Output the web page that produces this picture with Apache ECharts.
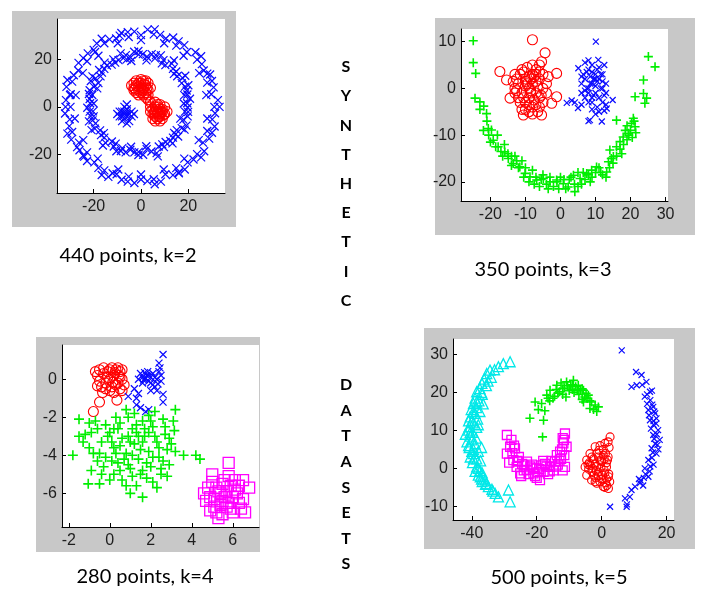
<!DOCTYPE html>
<html><head><meta charset="utf-8">
<script src="https://cdn.jsdelivr.net/npm/echarts@6/dist/echarts.min.js"></script>
<style>html,body{margin:0;padding:0;background:#fff}#c{width:701px;height:590px}</style>
</head><body><div id="c"></div>
<script>
// ---------- Panel 1: 440 points, k=2 ----------
const p1Ticks = [-20, 0, 20];
const p1BlueOuter = [[31.0,0],[32.5,2.8],[29.7,5.3],[30.7,8.2],[28.0,10.2],[29.2,13.6],[26.5,15.3],[25.7,18.0],[23.7,19.9],[23.0,23.0],[19.4,23.1],[18.3,26.0],[14.9,25.8],[13.6,29.2],[10.5,28.8],[8.1,30.3],[5.4,30.5],[2.8,32.5],[0,30.2],[-2.8,31.7],[-5.2,29.4],[-8.3,31.1],[-10.5,28.8],[-13.3,28.4],[-15.5,26.8],[-18.7,26.7],[-19.4,23.1],[-22.5,22.5],[-22.8,19.2],[-26.4,18.5],[-26.5,15.3],[-28.4,13.3],[-29.1,10.6],[-31.5,8.4],[-29.7,5.3],[-31.7,2.8],[-29.8,0],[-32.1,-2.8],[-30.1,-5.3],[-30.3,-8.1],[-29.1,-10.6],[-29.5,-13.8],[-26.2,-15.1],[-26.0,-18.3],[-22.8,-19.2],[-22.8,-22.8],[-19.7,-23.4],[-18.0,-25.7],[-15.5,-26.8],[-13.8,-29.5],[-10.3,-28.4],[-8.2,-30.7],[-5.2,-29.4],[-2.8,-32.1],[0,-30.6],[2.7,-31.3],[5.4,-30.5],[8.4,-31.5],[10.3,-28.4],[13.5,-28.8],[14.9,-25.8],[18.5,-26.4],[19.7,-23.4],[22.2,-22.2],[23.7,-19.9],[26.7,-18.7],[26.2,-15.1],[28.8,-13.4],[28.0,-10.2],[31.1,-8.3],[30.1,-5.3],[31.3,-2.7],[-24,-21],[-27,-17],[16,-28],[-30,5],[-20,24],[28,14],[-12,-28],[-9,30],
  [33.2,0],[27.6,4.9],[30.0,10.9],[24.6,14.2],[25.4,21.3],[18.0,21.5],[15.9,27.6],[9.8,26.8],[5.8,32.6],[0,28.1],[-5.6,31.5],[-9.8,26.8],[-16.6,28.7],[-18.0,21.5],[-24.4,20.5],[-24.6,14.2],[-31.1,11.3],[-27.6,4.9],[-31.9,0],[-28.0,-4.9],[-31.1,-11.3],[-24.4,-14.0],[-24.4,-20.5],[-18.3,-21.8],[-16.6,-28.7],[-9.6,-26.4],[-5.6,-31.5],[0,-28.5],[5.8,-32.6],[9.6,-26.4],[15.9,-27.6],[18.3,-21.8],[25.4,-21.3],[24.4,-14.0],[30.0,-10.9],[28.0,-4.9]];
const p1BlueInner = [[19.5,1.5],[20.7,3.4],[18.3,4.9],[19.3,6.9],[20.0,9.1],[17.2,10.0],[17.5,12.2],[15.3,12.9],[14.9,14.9],[13.5,16.0],[13.0,18.2],[10.3,17.6],[9.5,19.7],[8.4,21.7],[5.9,20.4],[4.5,22.2],[2.5,21.1],[0.8,22.2],[-1,22.0],[-2.9,23.2],[-4.4,20.8],[-6.4,21.8],[-8.6,22.5],[-9.5,19.7],[-11.7,20.0],[-12.4,17.8],[-14.4,17.4],[-15.5,16.0],[-17.7,15.5],[-17.1,12.8],[-19.2,12.0],[-21.2,10.9],[-19.9,8.4],[-21.7,7.0],[-20.6,5.0],[-21.7,3.3],[-21.5,1.5],[-22.7,-0.4],[-20.3,-1.9],[-21.3,-3.9],[-22.0,-6.1],[-19.2,-7.0],[-19.5,-9.2],[-17.3,-9.9],[-16.9,-11.9],[-15.5,-13.0],[-15.0,-15.2],[-12.3,-14.6],[-11.5,-16.7],[-10.4,-18.7],[-7.9,-17.4],[-6.5,-19.2],[-4.5,-18.1],[-2.8,-19.2],[-1,-19.0],[0.9,-20.2],[2.4,-17.8],[4.4,-18.8],[6.6,-19.5],[7.5,-16.7],[9.7,-17.0],[10.4,-14.8],[12.4,-14.4],[13.5,-13.0],[15.7,-12.5],[15.1,-9.8],[17.2,-9.0],[19.2,-7.9],[17.9,-5.4],[19.7,-4.0],[18.6,-2.0],[19.7,-0.3],[-20,-4],[-18,10],[14,-11],[-6,20],
  [18.1,1.4],[19.6,5.2],[18.6,8.5],[18.7,13.1],[13.9,13.9],[13.9,19.5],[8.8,18.3],[6.3,21.8],[2.3,19.6],[-1.1,23.5],[-4.1,19.3],[-7.5,20.5],[-10.9,18.6],[-15.4,18.6],[-16.5,14.4],[-20.5,12.8],[-18.5,7.8],[-22.0,5.4],[-20.0,1.4],[-21.7,-2.0],[-20.5,-5.7],[-20.9,-9.8],[-15.7,-11.1],[-16.1,-16.3],[-10.7,-15.5],[-8.5,-18.6],[-4.2,-16.8],[-1.1,-20.3],[2.2,-16.6],[7.1,-20.9],[9.0,-15.8],[13.3,-15.4],[14.6,-11.6],[18.4,-9.6],[16.6,-5.0],[19.9,-2.1]];
const p1BlueCenter = [[-7,-3],[-6,-4],[-8,-2],[-5,-3],[-7,-5],[-6,-1],[-9,-4],[-4,-4],[-7,0],[-8,-6],[-5,-6],[-6,-3],[-7,-2],[-9,-2],[-6,-7],[-4,-2],[-8,-4],[-6,1],[-10,-3],[-3,-3]];
const p1Red = [[-2,9],[0,10],[1,8],[-1,7],[2,9],[-3,8],[0,6],[1,11],[-2,6],[3,7],[-1,10],[2,6],[0,8],[-3,10],[1,5],[3,10],[-2,11],[4,8],[-1,5],[2,11],[0,9],[-3,7],[1,7],[3,5],[-4,9],[7,-2],[6,0],[8,-3],[5,-1],[9,-1],[6,-4],[8,1],[7,-5],[10,-3],[5,-3],[9,-5],[6,2],[8,-1],[4,0],[10,0],[7,-3],[5,-5],[9,-2],[6,-2],[8,-6],[7,1],[11,-2],[4,-2],[8,-4],[6,-6],[3,3],[4,2],[2,4],[-1,8.5],[0.5,7],[1.5,9.5],[-2.5,7.5],[2.5,8],[0,11.5],[6.5,-1],[7.5,-4],[8.5,-2],[5.5,-2.5],[9.5,-3.5],[7,0]];

// ---------- Panel 2: 350 points, k=3 ----------
const p2XTicks = [-20, -10, 0, 10, 20, 30];
const p2YTicks = [-20, -10, 0, 10];
const p2Red = [[-8.0,10.4],[-4.4,7.6],[-5.4,5.7],[-1.1,3.2],[-17.3,3.6],[-15.4,1.8],[-14.4,-2.1],[-2.5,-3.2],[-1.1,-1.8],[-5.4,-5.7],[-10.6,-5.7],[-9,0],[-8,1],[-10,2],[-7,-1],[-11,-1],[-8,3],[-6,2],[-9,-2],[-12,1],[-7,4],[-10,-3],[-6,-2],[-13,3],[-8,-4],[-11,4],[-5,0],[-9,2.5],[-12,-2],[-7,1.5],[-10,0.5],[-6,-4],[-13,-1],[-8.5,-1],[-11,-4.5],[-5,3],[-9.5,4.5],[-7.5,-2.5],[-12.5,2],[-4,1],[-6.5,0.5],[-10.5,-2],[-8,5],[-13,0],[-9,-3.5],[-5.5,-1.5],[-7,3],[-11.5,3],[-10,-4.5],[-4,-1],[-8,-5.5],[-6,5],[-9.5,1],[-8.5,-0.5],[-7.5,2.5],[-10.5,3.5],[-11.5,-3],[-6,3.5],[-9,-5],[-12.5,-0.5],[-7,-3.5],[-8.5,2],[-10,1.5],[-5,-3],[-3.5,2.5],[-13.5,1.5],[-6.5,-5]];
const p2Blue = [[10.1,10.0],[10.8,6.1],[1.8,-3.1],[3.2,-2.6],[4.1,-3.0],[5.0,-4.2],[8.4,-6.8],[8.0,-7.0],[11.8,-7.1],[14.9,-2.5],[13.2,-4.3],[12.5,-4.8],[5.1,4.3],[8,0],[9,1],[7,2],[10,-1],[11,2],[8,4],[6,-1],[9,-3],[12,0],[7,-2],[10,3],[11,-2],[8,-1],[9,5],[6,1],[12,3],[7,5.5],[10,0.5],[13,1],[8.5,2.5],[11,4.5],[6.5,3],[9.5,-1.5],[12,-3],[7.5,0],[10.5,-4],[11,-5],[9,-4.5],[13,-1],[8,6],[6,-3.5],[12.5,5],[10,2],[8.5,1],[9.5,2],[7.5,3.5],[10.5,1.5],[11.5,0],[9,-2],[12,1.5],[7,-0.5],[13,-3.5],[10,-5.5],[6,2.5],[11.5,3],[9,3.5],[8,-3],[12.5,-1.5],[10.5,4]];
const p2Green = [[-24.9,10.2],[-24.9,5.5],[-24.2,3.2],[-24.4,-2.1],[-23,-2.9],[-21.9,-3.8],[-21.1,-5.4],[-20.6,-8.6],[-19.7,-8.9],[-19.2,-11.1],[-17.8,-12.5],[-15.9,-13.6],[-14.9,-15],[-13.5,-16.1],[-11.6,-16.8],[-10.1,-18.2],[-8.7,-18.9],[-6.8,-19.6],[-4.9,-19.3],[-3,-20],[-1.1,-19.6],[0.8,-20.4],[2.2,-21.1],[4.1,-22.1],[3.7,-18.6],[5.6,-19.3],[7.5,-18.2],[8.9,-17.5],[10.3,-16.8],[13.2,-17.9],[13.7,-15.7],[14.1,-13.2],[15.1,-14.6],[16.0,-12.5],[17,-11.4],[17.9,-10.4],[19.4,-9.6],[20.3,-7.5],[20.8,-6.4],[21.3,-8.2],[21.3,-1.8],[23.7,-1.1],[24.6,-2.1],[24.1,-3.2],[23.7,1.8],[25.1,6.8],[27,4.6],[16,-6.8],[-22,-9],[-20,-11.5],[-18,-10],[-17,-13.5],[-16,-12],[-15,-14],[-14,-16.5],[-13,-14.5],[-12,-17],[-11,-15.5],[-10,-17],[-9,-20],[-8,-17.5],[-7,-19],[-6,-21],[-5,-18.5],[-4,-20.5],[-3,-19],[-2,-21],[-1,-20],[0,-19],[1,-19.5],[1.5,-21.5],[3,-19],[4,-20.5],[5,-18],[6,-20.5],[7,-19.5],[8,-18.5],[9,-19],[10,-18],[11,-17],[12,-18.5],[14,-17],[15,-16],[16,-14.5],[17,-13],[18,-12],[19,-11],[19.5,-10],[20,-9],[21,-7],[21.5,-9.5],[18.5,-9],[13,-19],[-23,-4.5],[-21,-7],[-20.5,-10],[-18.5,-12.5],[-16.5,-14.5],[-14,-14.5],[-12.5,-15.5],[-10.5,-19],[-7.5,-20.5],[-5.5,-19.5],[-3.5,-21.5],[-0.5,-21.5],[2.5,-19.5],[5,-21],[6.5,-18],[8.5,-20],[11.5,-18],[14.5,-15],[17.5,-14],[19,-8],[20.5,-10.5]];

// ---------- Panel 3: 280 points, k=4 ----------
const p3XTicks = [-2, 0, 2, 4, 6];
const p3YTicks = [-6, -4, -2, 0];
const p3Red = [[-0.8,-1.7],[-0.5,-1.2],[0.35,-1.1],[0,0],[0.2,0.2],[-0.3,0.3],[0.4,-0.2],[-0.5,-0.1],[0.1,-0.4],[0.5,0.4],[-0.2,-0.5],[0.3,0.5],[-0.6,0.2],[0.6,0],[0,0.5],[-0.4,-0.4],[0.2,-0.7],[0.5,-0.5],[-0.1,0.1],[0.3,-0.3],[-0.3,0.6],[0.6,0.5],[-0.7,0.4],[0.1,0.6],[0.45,0.2],[-0.2,-0.2],[0.7,-0.3],[-0.1,0.4],[0.4,0.6],[-0.5,0.5],[0.6,-0.6],[-0.35,-0.7],[0.15,-0.15],[0.5,0.1],[-0.6,-0.35],[0.25,0.35],[0,-0.6]];
const p3Blue = [[2.6,1.3],[2.4,0.85],[2.6,-0.8],[2.6,-1.2],[0.9,-0.9],[1.4,-0.75],[1.3,-1.35],[1.5,-1.5],[1.75,-1.7],[1.9,-1.6],[2.2,-0.4],[1.6,0.1],[1.8,0.2],[1.7,0],[2.0,0.1],[1.5,0.3],[1.9,-0.1],[2.1,0.3],[1.65,-0.05],[2.3,0],[2.5,-0.1],[2.4,0.4],[2.1,-0.3],[1.4,0],[1.85,0.4],[2.45,0.6],[1.2,-0.5],[2.0,-0.6],[1.75,0.05],[2.35,-0.25],[1.9,0.2],[2.2,0.1],[1.6,-0.2],[2.5,0.2],[2.0,-0.2],[1.3,-1.0],[2.3,-0.6],[1.7,0.35]];
const p3Green = [[-1.8,-4.0],[-1.5,-2.1],[-1.05,-5.5],[-0.5,-5.5],[1.6,-6.2],[4.2,-4.0],[4.4,-4.2],[3.6,-4.0],[3.15,-2.7],[3.2,-1.6],[0.8,-1.6],[-1.2,-2.9],[-1,-3.6],[-0.6,-2.6],[-0.4,-3.3],[-0.2,-4.1],[0,-2.8],[0.2,-3.6],[0.4,-4.4],[0.5,-2.3],[0.6,-3.1],[0.8,-3.9],[1.0,-4.7],[1.1,-2.6],[1.2,-3.4],[1.4,-4.2],[1.5,-5.0],[1.6,-2.2],[1.7,-3.0],[1.9,-3.8],[2.0,-4.6],[2.1,-2.5],[2.3,-3.3],[2.4,-4.1],[2.5,-5.0],[2.6,-2.1],[2.7,-2.9],[2.8,-3.7],[0.2,-5.0],[-0.3,-4.6],[0.6,-5.3],[1.3,-5.6],[2.1,-5.4],[0.9,-2.0],[1.9,-1.9],[-0.8,-3.9],[2.9,-4.5],[1.0,-3.3],[0.3,-2.0],[1.5,-3.7],[0.5,-4.8],[-0.1,-3.0],[2.2,-1.7],[3.0,-3.4],[1.8,-5.2],[0.1,-4.3],[1.3,-2.8],[-0.9,-2.8],[2.5,-4.7],[1.1,-5.1],[-1.3,-3.3],[-0.7,-2.2],[-0.5,-3.9],[-0.2,-2.4],[0.1,-3.3],[0.3,-3.9],[0.4,-2.6],[0.7,-4.2],[0.9,-3.0],[1.1,-4.0],[1.3,-2.4],[1.6,-3.3],[1.8,-4.4],[2.0,-2.2],[2.2,-3.0],[2.4,-3.6],[2.7,-2.5],[2.9,-3.1],[3.1,-2.2],[0.0,-5.3],[0.8,-5.6],[1.6,-4.8],[2.3,-5.7],[-0.6,-4.3],[-1.0,-2.3],[1.2,-1.8],[1.7,-2.6],[2.6,-4.3],[0.5,-3.5],[1.4,-3.0],[-0.4,-5.0],[0.9,-4.5],[2.1,-4.1],[-0.9,-4.8],[1.9,-2.8],[0.2,-2.6],[3.2,-3.8],[2.8,-5.1],[-1.5,-3.0],[1.0,-6.0]];
const p3Magenta = [[5.8,-4.4],[6.8,-5.7],[4.6,-6.0],[5,-5.4],[5.3,-5.9],[5.6,-6.2],[5.9,-5.6],[6.2,-6.0],[5.4,-6.6],[5.8,-6.5],[6.5,-6.3],[4.9,-6.9],[5.2,-7.0],[6.0,-7.0],[6.4,-6.8],[5.5,-5.5],[5.7,-5.9],[5.1,-6.3],[6.1,-5.3],[4.8,-5.7],[5.3,-7.3],[6.6,-7.0],[5.5,-7.1],[6.0,-6.2],[5.0,-5.0],[5.6,-5.3],[6.3,-5.6],[4.7,-6.4],[5.4,-6.0],[5.9,-6.8],[6.5,-5.3],[5.2,-5.7],[5.7,-6.7],[6.1,-5.8],[5.5,-6.4],[4.9,-6.2],[6.3,-6.5],[5.8,-5.1],[5.1,-6.7]];

// ---------- Panel 4: 500 points, k=5 ----------
const p4XTicks = [-40, -20, 0, 20];
const p4YTicks = [-10, 0, 10, 20, 30];
const p4Cyan = [[-28.2,28.1],[-30.3,27.6],[-31.8,26.8],[-33.0,26.0],[-34.4,25.9],[-35.4,25.0],[-34,24],[-36.2,23.5],[-36.9,22.4],[-35.5,21.8],[-37.5,21.0],[-38.5,20.2],[-36.8,19.5],[-39,18.5],[-37.8,17.8],[-39.5,17.1],[-38.5,16],[-40.2,15.5],[-39,14.5],[-40.5,13.6],[-38.2,13],[-41,12.5],[-39.5,12],[-40.8,11],[-38.5,10.8],[-41,10.1],[-39.8,9.5],[-42,9],[-40.5,8.5],[-38.7,8],[-40,7.5],[-41.5,7],[-39,6.5],[-40.8,5.5],[-39.5,5],[-38,4.5],[-39.5,3.9],[-40.5,3],[-38.5,2.5],[-37.3,2],[-39.8,1.5],[-38.5,0.4],[-37.5,-0.5],[-39,-0.8],[-36.8,-1.2],[-38,-1.8],[-37.4,-2.2],[-35.9,-3.1],[-36.8,-3.5],[-34.9,-4.8],[-35.8,-4.2],[-33.8,-5.5],[-32.8,-6.6],[-31.8,-7.5],[-28.7,-5.7],[-28.2,-8.8],[-36.5,17],[-37.5,15],[-38,11.5],[-37,5.5],[-35,23],[-37,20],[-38.5,17.5],[-39.5,15],[-40,12.5],[-40.5,9.5],[-41,6],[-40,4.5],[-39.5,2.5],[-38,0],[-37,-2.8],[-35.5,-4],[-33.5,-6]];
const p4Green = [[-22.1,13.2],[-17.9,12.7],[-18.2,8.3],[-20.5,17.5],[-18.5,17.1],[-19.5,15.5],[-17.5,15.2],[-16.9,19.3],[-16,17.8],[-15.9,20.6],[-14.5,19],[-13.8,21.9],[-13,20.2],[-12.5,22.5],[-12,19.5],[-11.5,21.2],[-10.8,22.8],[-10,20.5],[-9.5,21.8],[-8.7,23.2],[-8.5,20],[-8,21.5],[-7.2,21.9],[-7,19.5],[-6.5,20.8],[-5.6,20.6],[-5.2,18.8],[-4.8,19.8],[-4.1,19.3],[-3.6,17.8],[-3.1,17.5],[-2,16.7],[-1,16.2],[-3.6,15.8],[-5.6,17.5],[-15,18.5],[-11,18.8],[-14,20.8],[-9,22],[-6,18.2],[-2.5,15.5],[-1.5,15],[-12,21],[-10.5,21.8],[-9,20.8],[-7.5,20.5],[-13.5,19.8],[-16.5,18.5],[-6,21],[-4.5,18.5]];
const p4Magenta = [[-29.2,8.8],[-28.2,5.7],[-29.2,3.9],[-27.8,7.5],[-26.7,5.3],[-27.2,2.2],[-28.5,1.5],[-26.2,0.4],[-25.5,3],[-25.1,-1.3],[-24.5,1.2],[-24,-0.5],[-23.1,-0.4],[-23,1.8],[-22,0.5],[-21,-1.3],[-21.5,1],[-20,0],[-20.5,-2],[-19,-3.1],[-19.5,-1],[-18.5,0.8],[-17.9,-0.9],[-17,0.5],[-16.5,-1.5],[-15.9,0.4],[-15.5,2],[-14.4,1.8],[-14.8,-0.5],[-13.8,3.5],[-13.5,1],[-12.8,4.4],[-12.5,2.5],[-11.8,6.6],[-12,8],[-11.3,9.2],[-10.8,5.7],[-11.5,3.5],[-11.3,0.4],[-12,-0.5],[-22.5,-1.5],[-26,2],[-18,2],[-27.5,4],[-27,6],[-25.8,1.8],[-23.8,0.8],[-21,0],[-19.2,-0.2],[-17.5,1.2],[-16,-0.8],[-14,0.5],[-13,2],[-12.2,5],[-24.8,-2],[-20,-2.5],[-11.6,7.5]];
const p4Red = [[2.6,8.3],[1,6.6],[2,7],[-0.5,6],[-2,5.7],[0.5,5],[2.3,5.5],[-3.6,3.9],[-1.5,4],[0.5,3.5],[2,3],[-4.6,2.2],[-2.5,2.5],[-0.5,2],[1.5,1.5],[-5.1,0.4],[-3.5,0.8],[-1.5,0.5],[0,1.8],[1.5,0.4],[-4.6,-1.8],[-3,-0.8],[-1,-1],[1,-1.2],[2.2,-1.5],[-3.1,-3.1],[-1.8,-2.5],[0,-2.8],[2.1,-2.2],[-1.5,-3.9],[0.5,-4.8],[2.1,-5.3],[1.2,-3.8],[-0.5,-3.5],[-4,-0.2],[-2.5,-1.8],[-3.8,1.5],[-2,1.2],[-0.2,0.3],[0.8,-0.5],[1.8,2.2],[-1,3],[2.5,-3.5],[1,-5],[-1,-2],[-2.8,0],[-0.8,4.8],[1.2,4],[0.3,-1.8],[-2,-3.5],[1.5,-2.8],[-4.2,1],[-3,3],[0.8,2.5],[-1.8,-0.5],[1.6,-4.5]];
const p4Blue = [[6.2,31.1],[10.6,25.4],[12.3,24.6],[13.8,22.8],[9.2,21.5],[10.8,21.9],[12.5,22],[14.9,20.2],[13.3,18.9],[15,18],[14,17],[15.9,16.2],[14.4,15.4],[16.5,14.5],[16.9,13.2],[14.9,12.7],[16,11.5],[17.4,10.1],[15.2,10.5],[15.9,8.8],[17.9,7.5],[16.5,6.5],[15.4,5.3],[17.5,5],[16.9,3.9],[15.5,2.8],[14.4,2.2],[16,1],[13.3,0],[14.8,-0.8],[14.4,-2.2],[13,-2.5],[11.8,-3.9],[12.8,-4.5],[10.3,-4.8],[9.2,-5.7],[8.7,-7.5],[7.2,-7.9],[7.7,-10.1],[7.8,-9.5],[2.6,-10.1],[16.2,15],[15.5,20.5],[17,9],[11.5,-2.8],[14,19.5],[16.8,11.8],[16.2,7.8],[15.8,4.2],[15,0.5],[13.5,-1.5],[12,-3.2],[14.6,14],[16,12.5],[17.2,6.2],[15.6,16.8]];

const captions = ['440 points, k=2', '350 points, k=3', '280 points, k=4', '500 points, k=5'];
const sideTitle1 = ['S','Y','N','T','H','E','T','I','C'];
const sideTitle2 = ['D','A','T','A','S','E','T','S'];

// ---------- rendering ----------
const X_SYM = 'path://M0,0L10,10M10,0L0,10';
const PLUS_SYM = 'path://M5,0L5,10M0,5L10,5';
const BLUE = '#0a0aff', RED = '#ff0000', GREEN = '#00ee00', MAG = '#ff00ff', CYAN = '#00e8e8';

const panels = [
  {grid:{left:57, top:19, width:168, height:174}, bg:[12,11,224,216], x:[-35.5,35.5], y:[-36.3,37], xt:p1Ticks, yt:p1Ticks},
  {grid:{left:461, top:29, width:207, height:172}, bg:[435,18,260,217], x:[-28.4,30.7], y:[-24.1,12.7], xt:p2XTicks, yt:p2YTicks},
  {grid:{left:62, top:345, width:197, height:182}, bg:[36,337,224,215], x:[-2.33,7.28], y:[-7.77,1.8], xt:p3XTicks, yt:p3YTicks},
  {grid:{left:453, top:339, width:221, height:181}, bg:[424,328,271,221], x:[-45.8,22.3], y:[-13.6,34.1], xt:p4XTicks, yt:p4YTicks}
];

const labelStyle = {color:'#1e1e1e', fontSize:16, fontFamily:'Liberation Sans, Arial, sans-serif'};
const grids = [], xAxes = [], yAxes = [], graphics = [];
panels.forEach((p, i) => {
  grids.push(Object.assign({show:true, backgroundColor:'#ffffff', borderWidth:0, containLabel:false}, p.grid));
  graphics.push({type:'rect', z:-10, shape:{x:p.bg[0], y:p.bg[1], width:p.bg[2], height:p.bg[3]}, style:{fill:'#c8c8c8'}, silent:true});
  xAxes.push({type:'value', gridIndex:i, min:p.x[0], max:p.x[1], splitLine:{show:false},
    axisLine:{show:true, onZero:false, lineStyle:{color:'#000', width:1}},
    axisTick:{show:true, inside:true, length:4, customValues:p.xt, lineStyle:{color:'#000'}},
    axisLabel:Object.assign({customValues:p.xt, margin:6}, labelStyle)});
  yAxes.push({type:'value', gridIndex:i, min:p.y[0], max:p.y[1], splitLine:{show:false},
    axisLine:{show:true, onZero:false, lineStyle:{color:'#000', width:1}},
    axisTick:{show:true, inside:true, length:4, customValues:p.yt, lineStyle:{color:'#000'}},
    axisLabel:Object.assign({customValues:p.yt, margin:5}, labelStyle)});
});

function sc(data, gi, sym, size, color, bw) {
  return {type:'scatter', data:data, xAxisIndex:gi, yAxisIndex:gi, symbol:sym, symbolSize:size,
    itemStyle:{color:'transparent', borderColor:color, borderWidth:bw, opacity:1},
    silent:true, animation:false, emphasis:{disabled:true}};
}

const series = [
  sc(p1BlueOuter, 0, X_SYM, 8, BLUE, 1.2),
  sc(p1BlueInner, 0, X_SYM, 8, BLUE, 1.2),
  sc(p1BlueCenter, 0, X_SYM, 8, BLUE, 1.2),
  sc(p1Red, 0, 'circle', 10, RED, 1.1),
  sc(p2Red, 1, 'circle', 10, RED, 1.1),
  sc(p2Blue, 1, X_SYM, 6, BLUE, 1.2),
  sc(p2Green, 1, PLUS_SYM, 9, GREEN, 1.6),
  sc(p3Red, 2, 'circle', 10, RED, 1.1),
  sc(p3Blue, 2, X_SYM, 7, BLUE, 1.2),
  sc(p3Green, 2, PLUS_SYM, 10, GREEN, 1.6),
  sc(p3Magenta, 2, 'rect', 11, MAG, 1.3),
  sc(p4Cyan, 3, 'triangle', 10, CYAN, 1.3),
  sc(p4Green, 3, PLUS_SYM, 9, GREEN, 1.6),
  sc(p4Magenta, 3, 'rect', 9, MAG, 1.3),
  sc(p4Red, 3, 'circle', 8, RED, 1.1),
  sc(p4Blue, 3, X_SYM, 6, BLUE, 1.2)
];

const capPos = [[128,256],[543,270],[145,577],[559,578]];
captions.forEach((t, i) => {
  graphics.push({type:'text', x:capPos[i][0], y:capPos[i][1], silent:true,
    style:{text:t, font:'20px Lato, sans-serif', fill:'#000', align:'center', verticalAlign:'middle'}});
});
sideTitle1.forEach((ch, i) => {
  graphics.push({type:'text', x:346, y:67 + i*29.2, silent:true,
    style:{text:ch, font:'bold 16px Lato, sans-serif', fill:'#000', align:'center', verticalAlign:'middle'}});
});
sideTitle2.forEach((ch, i) => {
  graphics.push({type:'text', x:346, y:385 + i*25.6, silent:true,
    style:{text:ch, font:'bold 16px Lato, sans-serif', fill:'#000', align:'center', verticalAlign:'middle'}});
});

const chart = echarts.init(document.getElementById('c'), null, {renderer:'canvas'});
chart.setOption({animation:false, backgroundColor:'#ffffff', grid:grids, xAxis:xAxes, yAxis:yAxes, series:series, graphic:{elements:graphics}});
</script></body></html>
